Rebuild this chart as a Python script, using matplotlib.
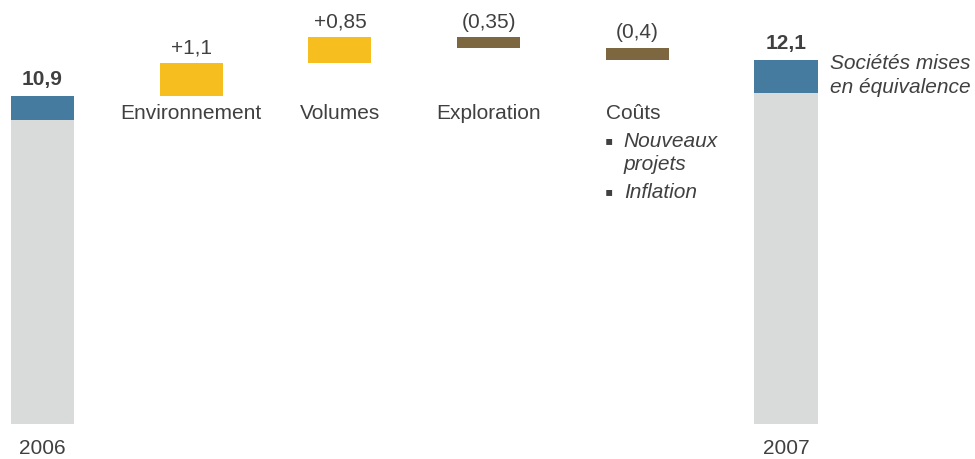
import matplotlib.pyplot as plt

plt.rcParams['font.family'] = ['Liberation Sans', 'DejaVu Sans']

# waterfall data (Md€)
start_total = 10.9
end_total = 12.1
start_equity = 0.8   # sociétés mises en équivalence, 2006
end_equity = 1.1     # sociétés mises en équivalence, 2007
steps = [1.1, 0.85, -0.35, -0.4]
step_labels = ['+1,1', '+0,85', '(0,35)', '(0,4)']
step_names = ['Environnement', 'Volumes', 'Exploration', 'Coûts']
years = ['2006', '2007']
total_labels = ['10,9', '12,1']

GREY = '#d9dbda'
BLUE = '#467ba0'
YELLOW = '#f6be1e'
BROWN = '#7d6740'
TXT = '#404040'

fig = plt.figure(figsize=(9.75, 4.59), dpi=100)
ax = fig.add_axes([0, 0, 1, 1])
ax.set_xlim(-0.286, 6.271)
ax.set_ylim(-1.163, 14.086)
ax.axis('off')

w = 0.424
fs = 15

# opening and closing totals
ends = [(0, start_total, start_equity), (5, end_total, end_equity)]
for (x, total, eq), lab, yr in zip(ends, total_labels, years):
    ax.bar(x, total - eq, width=w, color=GREY)
    ax.bar(x, eq, bottom=total - eq, width=w, color=BLUE)
    ax.annotate(lab, (x, total), xytext=(0, 5), textcoords='offset points',
                ha='center', va='bottom', fontsize=fs, fontweight='bold', color=TXT)
    ax.text(x, -0.82, yr, ha='center', va='center', fontsize=fs, color=TXT)

# intermediate steps
level = start_total
for i, (d, lab, name) in enumerate(zip(steps, step_labels, step_names), start=1):
    color = YELLOW if d > 0 else BROWN
    ax.bar(i, abs(d), bottom=min(level, level + d), width=w, color=color)
    top = max(level, level + d)
    ax.annotate(lab, (i, top), xytext=(0, 4), textcoords='offset points',
                ha='center', va='bottom', fontsize=fs, color=TXT)
    level += d
    if name == 'Coûts':
        x0 = i - w / 2
        ax.text(x0, 10.3, name, ha='left', va='center', fontsize=fs, color=TXT)
        ax.text(x0 - 0.005, 9.38, '▪', ha='left', va='center', fontsize=17, color=TXT)
        ax.text(x0 + 0.121, 9.38, 'Nouveaux', ha='left', va='center',
                fontsize=fs, style='italic', color=TXT)
        ax.text(x0 + 0.121, 8.61, 'projets', ha='left', va='center',
                fontsize=fs, style='italic', color=TXT)
        ax.text(x0 - 0.005, 7.68, '▪', ha='left', va='center', fontsize=17, color=TXT)
        ax.text(x0 + 0.121, 7.68, 'Inflation', ha='left', va='center',
                fontsize=fs, style='italic', color=TXT)
    else:
        ax.text(i, 10.3, name, ha='center', va='center', fontsize=fs, color=TXT)

ax.text(5.296, 11.96, 'Sociétés mises', ha='left', va='center',
        fontsize=fs, style='italic', color=TXT)
ax.text(5.296, 11.19, 'en équivalence', ha='left', va='center',
        fontsize=fs, style='italic', color=TXT)

fig.savefig('out.png', dpi=100)
